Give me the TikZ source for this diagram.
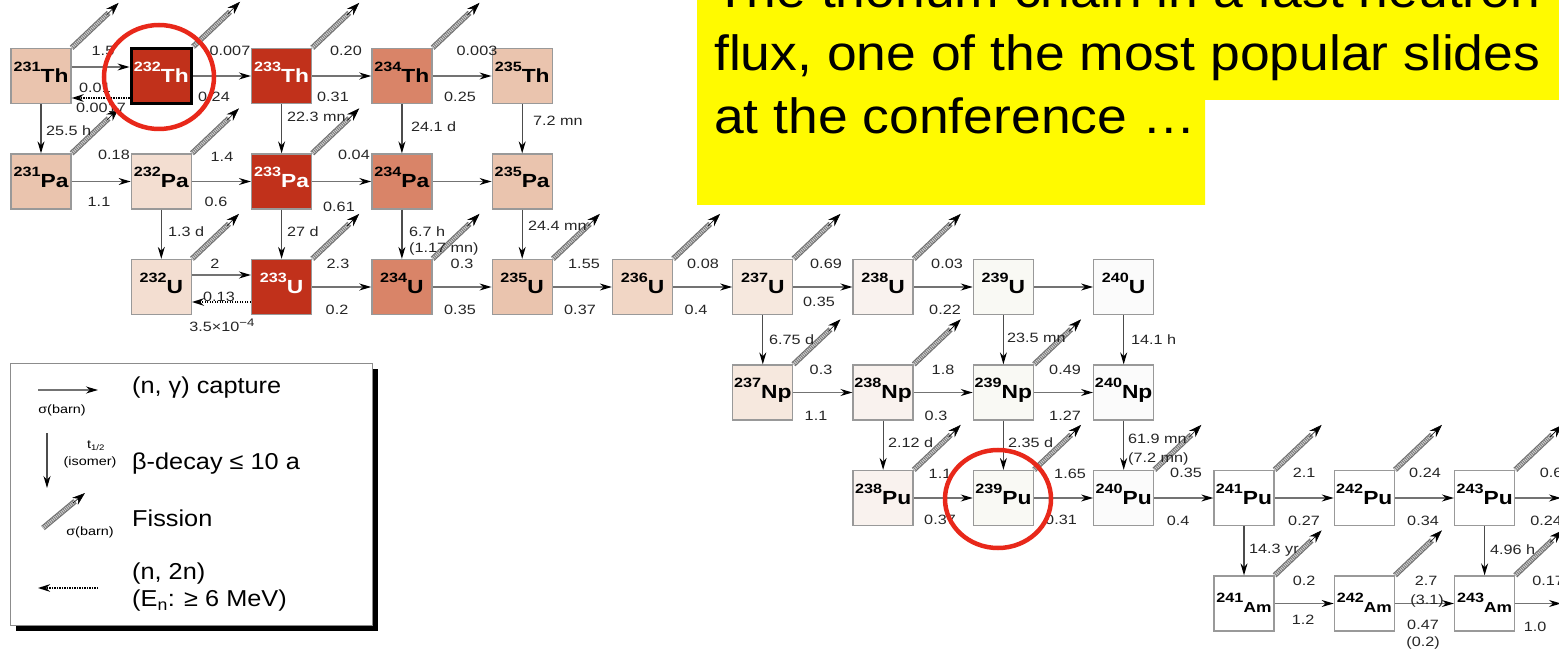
\documentclass[tikz,border=0pt]{standalone}
\usepackage{fontspec}
\setmainfont[FakeStretch=1.2]{Liberation Sans}
\newfontfamily\legendfont[FakeStretch=1.1]{Liberation Sans}
\newfontfamily\bannerfont[FakeStretch=1.08]{Liberation Sans}
\usetikzlibrary{arrows.meta,calc}

% box fills: darker = more populated in the chain
\definecolor{nucdark}{RGB}{193,49,27}
\definecolor{nucmid}{RGB}{217,132,104}
\definecolor{nuclt}{RGB}{234,196,174}
\definecolor{nucpale}{RGB}{243,222,209}
\definecolor{nucsix}{RGB}{241,214,197}
\definecolor{nucseven}{RGB}{246,232,222}
\definecolor{nuceight}{RGB}{249,242,238}
\definecolor{nucnine}{RGB}{249,249,244}
\definecolor{nucten}{RGB}{251,251,251}
\definecolor{hilite}{RGB}{255,250,0}
\definecolor{ringred}{RGB}{232,40,26}

% nuclide symbol: mass number raised before the element
\newcommand\nucl[2]{\raisebox{11pt}{\fontsize{13.5}{14}\selectfont\bfseries #1}{\fontsize{19}{19}\selectfont\bfseries #2}}
\newcommand\nuclam[2]{\raisebox{10pt}{\fontsize{13.5}{14}\selectfont\bfseries #1}{\fontsize{14.5}{15}\selectfont\bfseries #2}}

\newcount\labcnt
\newcommand\numl[3]{\global\advance\labcnt by 1\relax\node[numlab] (lab\the\labcnt) at (#1,#2) {#3};}
\newcommand\decl[3]{\global\advance\labcnt by 1\relax\node[numlab,anchor=west] (lab\the\labcnt) at (#1,#2) {#3};}

\begin{document}
\begin{tikzpicture}[x=1pt,y=-1pt,
  nucbox/.style={draw=black!40, line width=1.3pt, minimum width=60pt, minimum height=55pt,
                 inner sep=0pt, text height=13pt, text depth=0pt},
  ambox/.style={nucbox, fill=white, text height=18pt},
  hotbox/.style={nucbox, fill=nucdark, text=white},
  captarrow/.style={draw=black!55, line width=1.2pt, -{Stealth[length=12pt,width=7pt,black]}},
  decayarrow/.style={draw=black!70, line width=1.2pt, -{Stealth[length=12pt,width=7pt,black]}},
  ntwoarrow/.style={draw=black, line width=2pt, dash pattern=on 1.2pt off 1.3pt, -{Stealth[length=12pt,width=7.5pt,black]}},
  fisband/.style={draw=black!55, line width=5.5pt},
  fishatch/.style={draw=black!20, line width=3.3pt, dash pattern=on 1pt off 1pt},
  fistip/.style={draw=black, line width=0.6pt, -{Stealth[length=13pt,width=9pt]}},
  numlab/.style={inner sep=0pt, text=black!85, font=\fontsize{13.5}{14}\selectfont},
  legtext/.style={inner sep=0pt, anchor=west, font=\legendfont\fontsize{23}{24}\selectfont},
  smalltext/.style={inner sep=0pt, font=\fontsize{12}{12}\selectfont},
  ring/.style={draw=ringred, line width=4.5pt}]

\clip (0,0) rectangle (1559,652);
\fill[white] (0,0) rectangle (1559,652);

% ---------- nuclide boxes ----------
\node[nucbox, fill=nuclt]    (th231) at (41,76)     {\nucl{231}{Th}};
\node[hotbox, draw=black, line width=3.5pt] (th232) at (161.3,76) {\nucl{232}{Th}};
\node[hotbox]                (th233) at (281.6,76)  {\nucl{233}{Th}};
\node[nucbox, fill=nucmid]   (th234) at (401.9,76)  {\nucl{234}{Th}};
\node[nucbox, fill=nuclt]    (th235) at (522.2,76)  {\nucl{235}{Th}};

\node[nucbox, fill=nuclt]    (pa231) at (41,181.5)    {\nucl{231}{Pa}};
\node[nucbox, fill=nucpale]  (pa232) at (161.3,181.5) {\nucl{232}{Pa}};
\node[hotbox]                (pa233) at (281.6,181.5) {\nucl{233}{Pa}};
\node[nucbox, fill=nucmid]   (pa234) at (401.9,181.5) {\nucl{234}{Pa}};
\node[nucbox, fill=nuclt]    (pa235) at (522.2,181.5) {\nucl{235}{Pa}};

\node[nucbox, fill=nucpale]  (u232) at (161.3,287)  {\nucl{232}{U}};
\node[hotbox]                (u233) at (281.6,287)  {\nucl{233}{U}};
\node[nucbox, fill=nucmid]   (u234) at (401.9,287)  {\nucl{234}{U}};
\node[nucbox, fill=nuclt]    (u235) at (522.2,287)  {\nucl{235}{U}};
\node[nucbox, fill=nucsix]   (u236) at (642.5,287)  {\nucl{236}{U}};
\node[nucbox, fill=nucseven] (u237) at (762.8,287)  {\nucl{237}{U}};
\node[nucbox, fill=nuceight] (u238) at (883.1,287)  {\nucl{238}{U}};
\node[nucbox, fill=nucnine]  (u239) at (1003.4,287) {\nucl{239}{U}};
\node[nucbox, fill=nucten]   (u240) at (1123.7,287) {\nucl{240}{U}};

\node[nucbox, fill=nucseven] (np237) at (762.8,392.5)  {\nucl{237}{Np}};
\node[nucbox, fill=nuceight] (np238) at (883.1,392.5)  {\nucl{238}{Np}};
\node[nucbox, fill=nucnine]  (np239) at (1003.4,392.5) {\nucl{239}{Np}};
\node[nucbox, fill=nucten]   (np240) at (1123.7,392.5) {\nucl{240}{Np}};

\node[nucbox, fill=nuceight] (pu238) at (883.1,498)  {\nucl{238}{Pu}};
\node[nucbox, fill=nucnine]  (pu239) at (1003.4,498) {\nucl{239}{Pu}};
\node[nucbox, fill=nucten]   (pu240) at (1123.7,498) {\nucl{240}{Pu}};
\node[nucbox, fill=white]    (pu241) at (1244,498)   {\nucl{241}{Pu}};
\node[nucbox, fill=white]    (pu242) at (1364.3,498) {\nucl{242}{Pu}};
\node[nucbox, fill=white]    (pu243) at (1484.6,498) {\nucl{243}{Pu}};

\node[ambox] (am241) at (1244,603.5)   {\nuclam{241}{Am}};
\node[ambox] (am242) at (1364.3,603.5) {\nuclam{242}{Am}};
\node[ambox] (am243) at (1484.6,603.5) {\nuclam{243}{Am}};

\coordinate (puout) at (1561,498);
\coordinate (amout) at (1561,603.5);

% ---------- (n,gamma) capture ----------
\draw[captarrow] ($(th231.east)+(0,-9)$) -- ($(th232.west)+(0,-9)$);
\foreach \a/\b in {th232/th233, th233/th234, th234/th235,
                   pa231/pa232, pa232/pa233, pa233/pa234, pa234/pa235,
                   u233/u234, u234/u235, u235/u236, u236/u237, u237/u238, u238/u239, u239/u240,
                   np237/np238, np238/np239, np239/np240,
                   pu238/pu239, pu239/pu240, pu240/pu241, pu241/pu242, pu242/pu243,
                   am241/am242, am242/am243}
  \draw[captarrow] (\a.east) -- (\b.west);
\draw[captarrow] ($(u232.east)+(0,-12)$) -- ($(u233.west)+(0,-12)$);
\draw[captarrow] (pu243.east) -- (puout);
\draw[captarrow] (am243.east) -- (amout);

% ---------- (n,2n) ----------
\draw[ntwoarrow] ($(th232.west)+(0,22)$) -- ($(th231.east)+(0,22)$);
\draw[ntwoarrow] ($(u233.west)+(0,15)$) -- ($(u232.east)+(0,15)$);

% ---------- beta decay ----------
\foreach \a/\b in {th231/pa231, th233/pa233, th234/pa234, th235/pa235,
                   pa232/u232, pa233/u233, pa234/u234, pa235/u235,
                   u237/np237, u239/np239, u240/np240,
                   np238/pu238, np239/pu239, np240/pu240,
                   pu241/am241, pu243/am243}
  \draw[decayarrow] (\a.south) -- (\b.north);

% ---------- fission ----------
\foreach \n in {th231,th232,th233,th234,pa231,pa232,pa233,
                u232,u233,u234,u235,u236,u237,u238,
                np237,np238,np239,pu238,pu239,pu240,pu241,pu242,pu243,
                am241,am242,am243}{
  \coordinate (\n-fa) at ($(\n.north east)+(37,-35)$);
  \coordinate (\n-fb) at ($(\n.north east)+(35,-33)$);
  \coordinate (\n-fc) at ($(\n.north east)+(47,-45)$);
  \draw[fisband] (\n.north east) -- (\n-fa);
  \draw[fishatch] (\n.north east) -- (\n-fa);
  \draw[fistip] (\n-fb) -- (\n-fc);
}

% ---------- cross sections and half-lives ----------
\numl{103}{51}{1.5}
\numl{95}{88}{0.01}
\numl{101}{108}{0.0017}
\numl{230}{51}{0.007}
\numl{214}{97}{0.24}
\numl{346}{51}{0.20}
\numl{333}{97}{0.31}
\numl{477}{51}{0.003}
\numl{460}{97}{0.25}
\decl{46}{131}{25.5 h}
\decl{287}{117}{22.3 mn}
\decl{411}{127}{24.1 d}
\decl{533}{121}{7.2 mn}

\numl{114}{155}{0.18}
\numl{99}{202}{1.1}
\numl{222}{157}{1.4}
\numl{216}{202}{0.6}
\numl{354}{155}{0.04}
\numl{339}{207}{0.61}
\decl{168}{232}{1.3 d}
\decl{287}{232}{27 d}
\decl{409}{232}{6.7 h}
\decl{409}{249}{(1.17 mn)}
\decl{528}{226}{24.4 mn}

\numl{215}{264}{2}
\numl{219}{297}{0.13}
\numl{222}{325}{3.5×10\raisebox{5pt}{\fontsize{11}{11}\selectfont −4}}
\numl{338}{264}{2.3}
\numl{337}{310}{0.2}
\numl{462}{264}{0.3}
\numl{460}{310}{0.35}
\numl{584}{264}{1.55}
\numl{580}{310}{0.37}
\numl{703}{264}{0.08}
\numl{696}{310}{0.4}
\numl{826}{264}{0.69}
\numl{819}{302}{0.35}
\numl{947}{264}{0.03}
\numl{945}{310}{0.22}
\decl{769}{340}{6.75 d}
\decl{1007}{338}{23.5 mn}
\decl{1131}{340}{14.1 h}

\numl{821}{370}{0.3}
\numl{816}{416}{1.1}
\numl{943}{370}{1.8}
\numl{936}{416}{0.3}
\numl{1065}{370}{0.49}
\numl{1065}{416}{1.27}
\decl{888}{443}{2.12 d}
\decl{1008}{443}{2.35 d}
\decl{1128}{439}{61.9 mn}
\decl{1128}{459}{(7.2 mn)}

\numl{940}{474}{1.1}
\numl{940}{520}{0.37}
\numl{1070}{474}{1.65}
\numl{1061}{520}{0.31}
\numl{1186}{473}{0.35}
\numl{1178}{521}{0.4}
\numl{1304}{473}{2.1}
\numl{1304}{521}{0.27}
\numl{1425}{473}{0.24}
\numl{1423}{521}{0.34}
\numl{1551}{473}{0.6}
\numl{1546}{521}{0.24}
\decl{1249}{550}{14.3 yr}
\decl{1490}{550}{4.96 h}

\numl{1304}{581}{0.2}
\numl{1303}{620}{1.2}
\numl{1426}{581}{2.7}
\numl{1427}{601}{(3.1)}
\numl{1423}{625}{0.47}
\numl{1423}{643}{(0.2)}
\numl{1548}{581}{0.17}
\numl{1535}{627}{1.0}

% ---------- legend ----------
\fill[black] (16,369) rectangle (378,631);
\node[draw=black!45, fill=white, line width=1.2pt, minimum width=362pt, minimum height=262pt,
      inner sep=0pt, anchor=north west] (legend) at (10,363) {};

\coordinate (lgca) at (38,390);
\coordinate (lgcb) at (98,390);
\draw[captarrow] (lgca) -- (lgcb);
\node[smalltext] (lgcs) at (62,410) {σ(barn)};
\node[legtext] (lgct) at (132,388) {(n, γ) capture};

\coordinate (lgda) at (47,433);
\coordinate (lgdb) at (47,488);
\draw[decayarrow] (lgda) -- (lgdb);
\node[smalltext] (lgdh) at (96,446) {t\textsubscript{1/2}};
\node[smalltext] (lgdi) at (90,462) {(isomer)};
\node[legtext] (lgdt) at (132,464) {β-decay ≤ 10 a};

\coordinate (lgfa) at (43,528);
\coordinate (lgfm) at (75,501.3);
\coordinate (lgfb) at (73,503);
\coordinate (lgfc) at (85,493);
\draw[fisband] (lgfa) -- (lgfm);
\draw[fishatch] (lgfa) -- (lgfm);
\draw[fistip] (lgfb) -- (lgfc);
\node[smalltext] (lgfs) at (90,532) {σ(barn)};
\node[legtext] (lgft) at (132,518) {Fission};

\coordinate (lgna) at (98,588);
\coordinate (lgnb) at (38,588);
\draw[ntwoarrow] (lgna) -- (lgnb);
\node[legtext] (lgnt) at (132,574) {(n, 2n)};
\node[legtext] (lgne) at (132,601) {(E\textsubscript{n}: ≥ 6 MeV)};

% ---------- highlight rings ----------
\draw[ring] (159,77) ellipse [x radius=55pt, y radius=52pt];
\draw[ring] (998,499) ellipse [x radius=53pt, y radius=49pt];

% ---------- caption banner ----------
\fill[hilite] (697,-2) -- (1561,-2) -- (1561,100) -- (1205,100) -- (1205,205) -- (697,205) -- cycle;
\node[inner sep=0pt, anchor=base west, align=left, font=\bannerfont\fontsize{49.5}{63}\selectfont] (caption) at (714,134)
  {The thorium chain in a fast neutron\\ flux, one of the most popular slides\\ at the conference …};

\end{tikzpicture}
\end{document}
